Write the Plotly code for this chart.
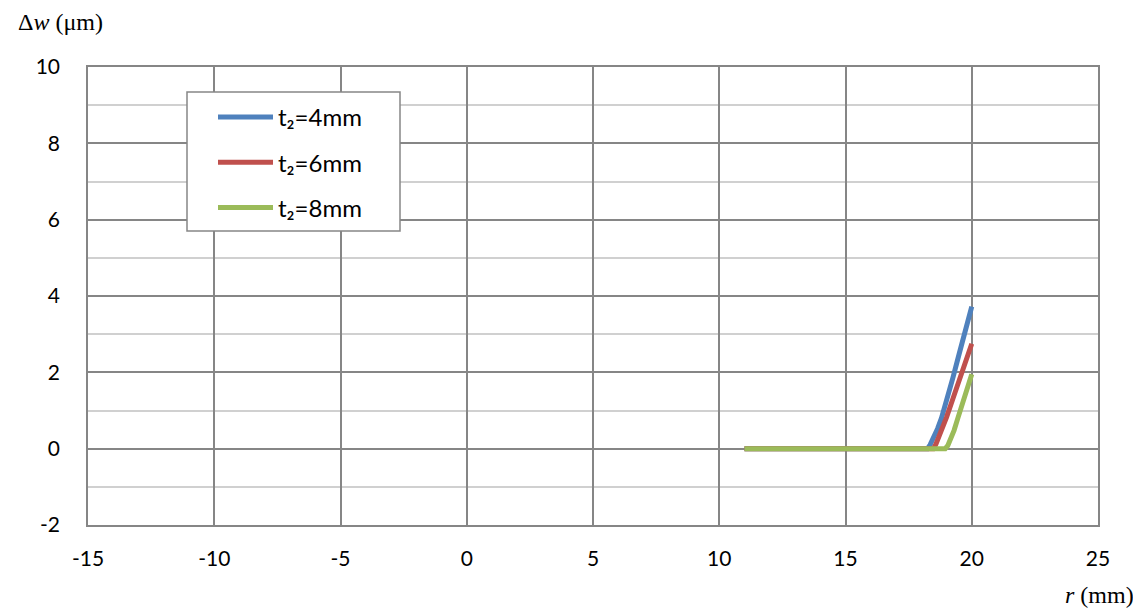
import plotly.graph_objects as go

r_blue = [11, 18.25, 18.35, 18.5, 18.65, 18.8, 19.0, 19.25, 19.5, 19.75, 20.0]
w_blue = [0, 0, 0.1, 0.3, 0.53, 0.8, 1.22, 1.85, 2.48, 3.1, 3.72]
r_red = [11, 18.48, 18.58, 18.7, 18.85, 19.0, 19.25, 19.5, 19.75, 20.0]
w_red = [0, 0, 0.12, 0.3, 0.55, 0.82, 1.3, 1.8, 2.28, 2.75]
r_green = [11, 18.95, 19.05, 19.15, 19.3, 19.45, 19.6, 19.8, 20.0]
w_green = [0, 0, 0.08, 0.22, 0.48, 0.8, 1.1, 1.55, 1.95]
names = ["t₂=4mm", "t₂=6mm", "t₂=8mm"]
colors = ["#4F81BD", "#C0504D", "#9BBB59"]

x_ticks = [-15, -10, -5, 0, 5, 10, 15, 20, 25]
y_ticks = [-2, 0, 2, 4, 6, 8, 10]

# page body has an 8px offset; plot area on screen: x 88..1098, y 67..525
W, H = 1141, 609
L, T = 80, 59
PW, PH = 1010, 458


def px(sx):
    return (sx - 88) / PW


def py(sy):
    return (525 - sy) / PH


fig = go.Figure()
for i, (rr, ww, nm, c) in enumerate(zip([r_blue, r_red, r_green], [w_blue, w_red, w_green], names, colors)):
    fig.add_trace(go.Scatter(x=rr, y=ww, mode="lines", name=nm, legendgroup=f"g{i}",
                             line=dict(color=c, width=5)))

fig.update_layout(
    width=W, height=H,
    margin=dict(l=L, r=W - L - PW, t=T, b=H - T - PH),
    paper_bgcolor="white", plot_bgcolor="white",
    font=dict(family="Lato, Liberation Sans, sans-serif", size=21, color="black"),
    showlegend=True,
    legend=dict(x=px(213), y=py(95), xanchor="left", yanchor="top",
                borderwidth=0, bgcolor="rgba(0,0,0,0)",
                font=dict(size=24), itemwidth=55, tracegroupgap=11),
    xaxis=dict(range=[-15, 25], tickvals=x_ticks, ticktext=[str(v) for v in x_ticks],
               showgrid=True, gridcolor="#868686", gridwidth=1.5,
               zeroline=False, showline=True, linecolor="#868686", linewidth=1.5,
               mirror=True, ticks="", ticklabelstandoff=14),
    yaxis=dict(range=[-2, 10], tickvals=y_ticks, ticktext=[str(v) for v in y_ticks],
               showgrid=True, gridcolor="#868686", gridwidth=1.5,
               minor=dict(dtick=1, tick0=-2, showgrid=True, gridcolor="#D0D0D0", gridwidth=1.5),
               zeroline=False, showline=True, linecolor="#868686", linewidth=1.5,
               mirror=True, ticks="", ticklabelstandoff=22),
    shapes=[dict(type="rect", xref="paper", yref="paper",
                 x0=px(187), x1=px(400), y0=py(231), y1=py(92),
                 line=dict(color="#868686", width=1.5), fillcolor="white", layer="above")],
    annotations=[
        dict(text="Δ<i>w</i> (μm)", x=px(60), y=py(22), xref="paper", yref="paper",
             xanchor="center", yanchor="middle", showarrow=False,
             font=dict(family="Liberation Serif", size=24)),
        dict(text="<i>r</i> (mm)", x=px(1099), y=py(595), xref="paper", yref="paper",
             xanchor="center", yanchor="middle", showarrow=False,
             font=dict(family="Liberation Serif", size=24)),
    ],
)
fig.write_html("out.html")
